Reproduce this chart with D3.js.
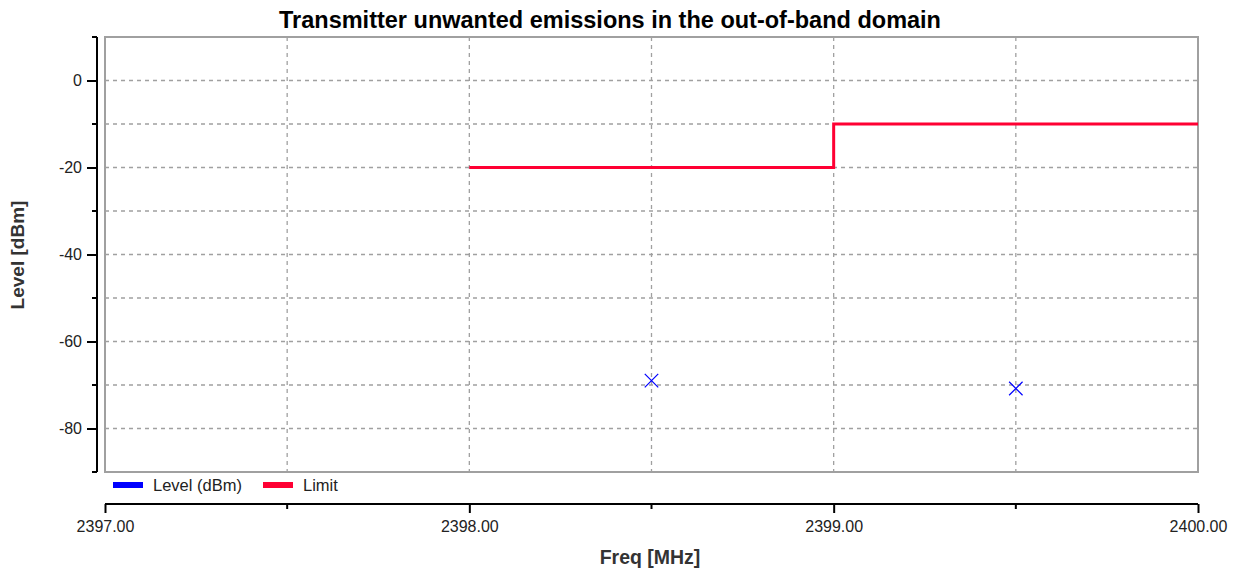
<!DOCTYPE html>
<html>
<head>
<meta charset="utf-8">
<script src="https://cdn.jsdelivr.net/npm/d3@7"></script>
<style>
body { margin: 0; background: #fff; }
text { font-family: "Liberation Sans", Arial, sans-serif; }
</style>
</head>
<body>
<div id="graph"></div>
<script>
// chart data
var limitFreq = [2398.0, 2399.0, 2399.0, 2400.0];
var limitLevel = [-20, -20, -10, -10];
var levelFreq = [2398.5, 2399.5];
var levelVals = [-69.0, -70.8];
var yTickVals = [0, -20, -40, -60, -80];
var xTickVals = [2397, 2398, 2399, 2400];
var legendNames = ["Level (dBm)", "Limit"];
var legendColors = ["#0000ff", "#ff0033"];

var width = 1237, height = 569;
var margin = {top: 37, right: 39, bottom: 97, left: 105};

var svg = d3.select('#graph').append('svg')
	.attr('width', width)
	.attr('height', height);

var x = d3.scaleLinear().domain([2397, 2400]).range([margin.left, width - margin.right]);
var y = d3.scaleLinear().domain([-90, 10]).range([height - margin.bottom, margin.top]);

// grid
svg.append('g').selectAll('line')
	.data(d3.range(-80, 10, 10))
	.enter().append('line')
	.attr('x1', x(2397)).attr('x2', x(2400))
	.attr('y1', d => y(d)).attr('y2', d => y(d))
	.attr('stroke', '#a0a0a0').attr('stroke-width', 1.3)
	.attr('stroke-dasharray', '4,4');

svg.append('g').selectAll('line')
	.data(d3.range(2397.5, 2400, 0.5))
	.enter().append('line')
	.attr('x1', d => x(d)).attr('x2', d => x(d))
	.attr('y1', y(10)).attr('y2', y(-90))
	.attr('stroke', '#a0a0a0').attr('stroke-width', 1.3)
	.attr('stroke-dasharray', '4,4');

// plot border
svg.append('rect')
	.attr('x', x(2397)).attr('y', y(10))
	.attr('width', x(2400) - x(2397)).attr('height', y(-90) - y(10))
	.attr('fill', 'none').attr('stroke', '#a0a0a0').attr('stroke-width', 2);

// y axis
var yAxis = d3.axisLeft(y).tickValues(yTickVals).tickSize(10).tickPadding(5)
	.tickFormat(d => String(d));
var yg = svg.append('g').attr('transform', `translate(${margin.left - 8},0)`).call(yAxis);
yg.select('.domain').remove();
yg.append('line').attr('x1', 0).attr('x2', 0).attr('y1', y(10)).attr('y2', y(-90))
	.attr('stroke', '#000').attr('stroke-width', 2);
yg.selectAll('.minor').data(d3.range(-90, 11, 10).filter(d => yTickVals.indexOf(d) < 0))
	.enter().append('line').attr('class', 'minor')
	.attr('x1', -5).attr('x2', 0).attr('y1', d => y(d)).attr('y2', d => y(d))
	.attr('stroke', '#000').attr('stroke-width', 2);
yg.selectAll('.tick line').attr('stroke-width', 2);
yg.selectAll('.tick text').attr('font-size', 16).attr('fill', '#222');

// x axis
var xAxis = d3.axisBottom(x).tickValues(xTickVals).tickSize(9).tickPadding(8).tickFormat(d3.format('.2f'));
var xg = svg.append('g').attr('transform', `translate(0,504)`).call(xAxis);
xg.select('.domain').remove();
xg.append('line').attr('x1', x(2397)).attr('x2', x(2400)).attr('y1', 0).attr('y2', 0)
	.attr('stroke', '#000').attr('stroke-width', 2);
xg.selectAll('.minor').data(d3.range(2397.5, 2400, 1))
	.enter().append('line').attr('class', 'minor')
	.attr('x1', d => x(d)).attr('x2', d => x(d)).attr('y1', 0).attr('y2', 5)
	.attr('stroke', '#000').attr('stroke-width', 2);
xg.selectAll('.tick line').attr('stroke-width', 2);
xg.selectAll('.tick text').attr('font-size', 16).attr('fill', '#222');

// limit line
var line = d3.line().x(d => x(d[0])).y(d => y(d[1]));
svg.append('path')
	.datum(limitFreq.map((f, i) => [f, limitLevel[i]]))
	.attr('d', line)
	.attr('fill', 'none').attr('stroke', legendColors[1]).attr('stroke-width', 3);

// level markers
var cross = d3.symbol().type(d3.symbolX).size(120);
svg.append('g').selectAll('path')
	.data(levelFreq.map((f, i) => [f, levelVals[i]]))
	.enter().append('path')
	.attr('d', cross)
	.attr('transform', d => `translate(${x(d[0])},${y(d[1])})`)
	.attr('fill', 'none').attr('stroke', legendColors[0]).attr('stroke-width', 1.2);

// legend
var legX = [113, 263];
var leg = svg.append('g').selectAll('g').data(legendNames).enter().append('g')
	.attr('transform', (d, i) => `translate(${legX[i]},485)`);
leg.append('rect').attr('x', 0).attr('y', -3).attr('width', 30).attr('height', 6)
	.attr('fill', (d, i) => legendColors[i]);
leg.append('text').attr('x', 40).attr('y', 6).attr('font-size', 16.5).attr('fill', '#222').text(d => d);

// titles
svg.append('text').attr('x', 610).attr('y', 28).attr('text-anchor', 'middle')
	.attr('font-size', 23.5).attr('font-weight', 'bold')
	.text('Transmitter unwanted emissions in the out-of-band domain');
svg.append('text').attr('x', 650).attr('y', 564).attr('text-anchor', 'middle')
	.attr('font-size', 19.5).attr('font-weight', 'bold').attr('fill', '#333')
	.text('Freq [MHz]');
svg.append('text').attr('transform', 'translate(24,255) rotate(-90)').attr('text-anchor', 'middle')
	.attr('font-size', 19).attr('font-weight', 'bold').attr('fill', '#333')
	.text('Level [dBm]');
</script>
</body>
</html>
